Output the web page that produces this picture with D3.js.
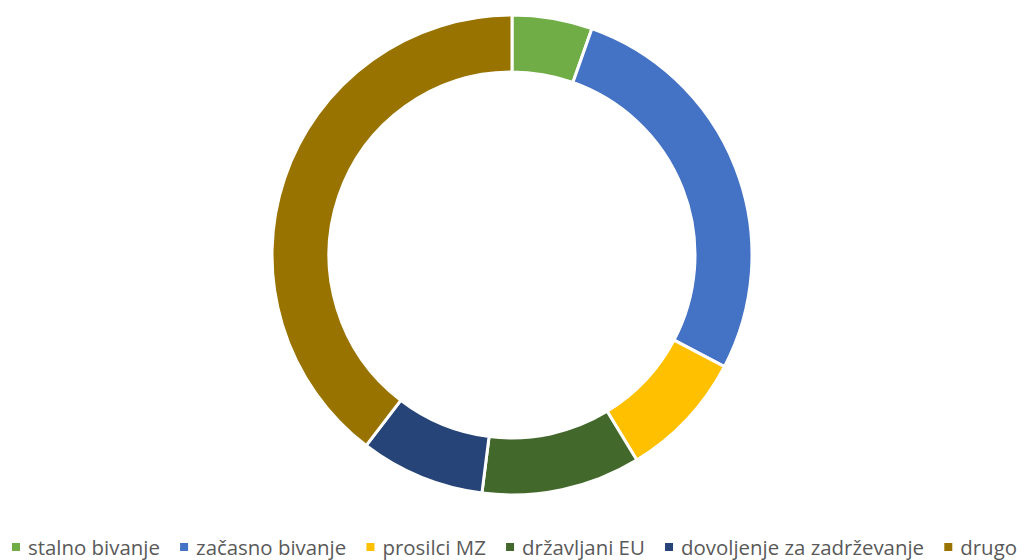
<!DOCTYPE html>
<html><head><meta charset="utf-8">
<script src="https://cdn.jsdelivr.net/npm/d3@7"></script>
<style>body{margin:0;background:#fff}</style>
</head><body>
<svg id="c" width="1028" height="560"></svg>
<script>
const categories = ["stalno bivanje","začasno bivanje","prosilci MZ","državljani EU","dovoljenje za zadrževanje","drugo"];
const values = [5.4, 27.3, 8.6, 10.7, 8.4, 39.6];
const colors = ["#70AD47","#4472C4","#FFC000","#43682B","#264478","#997300"];

const svg = d3.select("#c");
const cx = 512, cy = 255, rOuter = 240, rInner = 183;
const pie = d3.pie().sort(null).value(d => d)(values);
const arc = d3.arc().innerRadius(rInner).outerRadius(rOuter);
const g = svg.append("g").attr("transform", `translate(${cx},${cy})`);
g.selectAll("path").data(pie).join("path")
  .attr("d", arc)
  .attr("fill", (d,i) => colors[i])
  .attr("stroke", "#fff").attr("stroke-width", 3).attr("stroke-linejoin","miter");

// legend: lay out items to span from left 12 to right 1017
const lg = svg.append("g").attr("font-family","'Open Sans', sans-serif").attr("fill","#595959");
const ly = 555;
// pick font size so first label is ~132px wide
const probe = lg.append("text").attr("font-size", 20).text(categories[0]);
const fs = 20 * 132 / probe.node().getComputedTextLength();
probe.remove();
const texts = categories.map(c => lg.append("text").attr("font-size", fs).attr("y", ly).text(c));
const widths = texts.map(t => t.node().getComputedTextLength());
const sq = 8, sqGap = 8;
const total = widths.reduce((a,b)=>a+b,0) + categories.length*(sq+sqGap);
const gap = (1017 - 12 - total) / (categories.length - 1);
let x = 12;
categories.forEach((c,i) => {
  lg.insert("rect", "text").attr("x", x).attr("y", 543).attr("width", sq).attr("height", sq).attr("fill", colors[i]);
  texts[i].attr("x", x + sq + sqGap);
  x += sq + sqGap + widths[i] + gap;
});
</script>
</body></html>
